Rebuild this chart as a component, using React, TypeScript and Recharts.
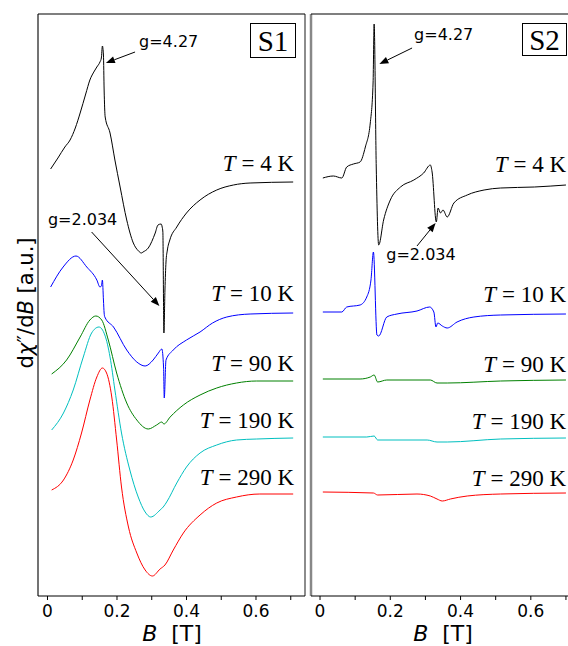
import { LineChart, Line, XAxis, YAxis, ReferenceLine } from 'recharts';

type Pt = [number, number];

// magnetic field B [T] vs offset dχ''/dB (a.u.)
const S1_4K: Pt[] = [
  [0.009, 427], [0.03, 438], [0.05, 449], [0.065, 456], [0.08, 468], [0.094, 483], [0.11, 502],
  [0.122, 516], [0.135, 525], [0.142, 529], [0.151, 534], [0.155, 538], [0.158, 550], [0.161, 541],
  [0.163, 506], [0.166, 479], [0.18, 463], [0.194, 436], [0.209, 409], [0.228, 376], [0.247, 353],
  [0.262, 345], [0.27, 343], [0.275, 344], [0.29, 348], [0.31, 363], [0.318, 371], [0.327, 372],
  [0.33, 369], [0.332, 364], [0.335, 263], [0.338, 306], [0.341, 334], [0.345, 346], [0.352, 356],
  [0.372, 369], [0.4, 383], [0.439, 396], [0.487, 406], [0.535, 411], [0.583, 413], [0.707, 414],
];
const S1_10K: Pt[] = [
  [0.009, 309], [0.045, 329], [0.082, 340], [0.113, 329], [0.142, 316], [0.151, 309], [0.155, 310],
  [0.158, 316], [0.161, 296], [0.163, 283], [0.165, 279], [0.19, 269], [0.228, 246], [0.257, 234],
  [0.281, 230], [0.304, 236], [0.319, 243], [0.329, 247], [0.334, 229], [0.336, 198], [0.341, 236],
  [0.362, 246], [0.4, 256], [0.439, 264], [0.475, 273], [0.516, 279], [0.583, 282], [0.707, 283],
];
const S1_90K: Pt[] = [
  [0.012, 222], [0.055, 236], [0.094, 259], [0.122, 276], [0.139, 280], [0.156, 276], [0.175, 256],
  [0.199, 223], [0.228, 193], [0.257, 176], [0.29, 167], [0.314, 171], [0.329, 174], [0.335, 172],
  [0.353, 179], [0.391, 191], [0.439, 201], [0.487, 208], [0.544, 213], [0.602, 215], [0.707, 215],
];
const S1_190K: Pt[] = [
  [0.012, 166], [0.046, 183], [0.074, 206], [0.103, 239], [0.127, 263], [0.148, 269], [0.165, 261],
  [0.18, 239], [0.194, 206], [0.213, 163], [0.237, 126], [0.261, 99], [0.281, 84], [0.297, 79],
  [0.324, 86], [0.333, 89], [0.343, 94], [0.372, 113], [0.4, 129], [0.439, 143], [0.487, 151],
  [0.544, 156], [0.602, 157], [0.707, 158],
];
const S1_290K: Pt[] = [
  [0.012, 106], [0.046, 116], [0.074, 136], [0.098, 163], [0.122, 196], [0.142, 219], [0.158, 228],
  [0.17, 223], [0.185, 199], [0.199, 156], [0.213, 109], [0.233, 69], [0.257, 43], [0.281, 26],
  [0.302, 20], [0.324, 27], [0.338, 31], [0.362, 46], [0.391, 63], [0.439, 81], [0.487, 93],
  [0.544, 99], [0.611, 102], [0.707, 102],
];

const S2_4K: Pt[] = [
  [0.008, 418], [0.038, 420], [0.062, 418], [0.076, 429], [0.095, 432], [0.114, 434], [0.129, 449],
  [0.143, 473], [0.151, 513], [0.154, 572], [0.16, 429], [0.167, 351], [0.181, 376], [0.2, 396],
  [0.229, 409], [0.267, 416], [0.295, 423], [0.314, 431], [0.319, 424], [0.331, 374], [0.336, 388],
  [0.343, 383], [0.35, 386], [0.362, 379], [0.381, 393], [0.419, 401], [0.467, 406], [0.514, 408],
  [0.61, 409], [0.7, 411],
];
const S2_10K: Pt[] = [
  [0.008, 284], [0.062, 284], [0.076, 289], [0.114, 291], [0.133, 299], [0.145, 316], [0.152, 344],
  [0.162, 261], [0.167, 260], [0.19, 279], [0.219, 282], [0.276, 285], [0.312, 289], [0.324, 284],
  [0.33, 269], [0.335, 273], [0.348, 270], [0.362, 268], [0.39, 274], [0.438, 279], [0.514, 281],
  [0.7, 282],
];
const S2_90K: Pt[] = [
  [0.008, 217], [0.114, 217], [0.143, 219], [0.154, 221], [0.164, 214], [0.19, 216], [0.314, 216],
  [0.333, 213], [0.362, 213], [0.514, 215], [0.7, 216],
];
const S2_190K: Pt[] = [
  [0.008, 159], [0.133, 159], [0.154, 160], [0.164, 156], [0.305, 156], [0.333, 154], [0.362, 154],
  [0.514, 157], [0.7, 158],
];
const S2_290K: Pt[] = [
  [0.008, 104], [0.152, 103], [0.164, 101], [0.276, 102], [0.314, 100], [0.333, 97], [0.348, 95],
  [0.371, 97], [0.419, 100], [0.514, 102], [0.7, 103],
];

const TEMPS = ['4', '10', '90', '190', '290'];
const COLORS = ['#000000', '#0000ff', '#008000', '#00bfbf', '#ff0000'];
const X_TICKS = [0, 0.1, 0.2, 0.3, 0.4, 0.5, 0.6, 0.7];
const Y_MAX = 582;

const toPts = (arr: Pt[]) => arr.map(([x, y]) => ({ x, y }));

const S1 = [S1_4K, S1_10K, S1_90K, S1_190K, S1_290K].map(toPts);
const S2 = [S2_4K, S2_10K, S2_90K, S2_190K, S2_290K].map(toPts);

// label baselines in px, panel is the same height for both
const LABEL_Y = [171, 301, 371, 428, 485];

const tickFmt = (v: number) => {
  const r = Math.round(v * 10);
  if (r === 0) return '0';
  if (r % 2 === 1) return '';
  return v.toFixed(1);
};

const sans = 'DejaVu Sans, sans-serif';
const serif = 'Liberation Serif, DejaVu Serif, serif';

const Arrow = (p: any) => {
  const { x1, y1, x2, y2, note } = p;
  const dx = x2 - x1;
  const dy = y2 - y1;
  const len = Math.sqrt(dx * dx + dy * dy);
  const ux = dx / len;
  const uy = dy / len;
  const hl = 9;
  const hw = 3.5;
  const bx = x2 - ux * hl;
  const by = y2 - uy * hl;
  return (
    <g>
      <line x1={x1} y1={y1} x2={bx} y2={by} stroke="#000" strokeWidth={1} />
      <polygon
        points={`${x2},${y2} ${bx - uy * hw},${by + ux * hw} ${bx + uy * hw},${by - ux * hw}`}
        fill="#000"
      />
      <text x={x1 + note.dx} y={y1 + note.dy} textAnchor={note.anchor} fontSize={16} fontFamily={sans} fill="#000">
        {note.text}
      </text>
    </g>
  );
};

interface Note {
  from: [number, number];
  to: [number, number];
  text: string;
  dx: number;
  dy: number;
  anchor: string;
}

const S1_NOTES: Note[] = [
  { from: [0.252, 544], to: [0.168, 533], text: 'g=4.27', dx: 4, dy: -5, anchor: 'start' },
  { from: [0.127, 364], to: [0.322, 290], text: 'g=2.034', dx: -9, dy: -7, anchor: 'middle' },
];
const S2_NOTES: Note[] = [
  { from: [0.262, 548], to: [0.169, 532], text: 'g=4.27', dx: 2, dy: -8, anchor: 'start' },
  { from: [0.276, 350], to: [0.329, 373], text: 'g=2.034', dx: 4, dy: 14, anchor: 'middle' },
];

interface PanelProps {
  series: { x: number; y: number }[][];
  notes: Note[];
  domain: [number, number];
  width: number;
  marginLeft: number;
  leftBorder: { stroke: string; width: number };
  rightBorder?: { stroke: string; width: number };
}

const Panel = ({ series, notes, domain, width, marginLeft, leftBorder, rightBorder }: PanelProps) => (
  <LineChart width={width} height={646} margin={{ top: 14, right: rightBorder ? 1 : 0, bottom: 0, left: marginLeft }}>
    <XAxis
      dataKey="x"
      type="number"
      domain={domain}
      allowDataOverflow
      ticks={X_TICKS}
      tickFormatter={tickFmt}
      interval={0}
      height={50}
      tickSize={4}
      tickMargin={5}
      tick={{ fontSize: 17, fill: '#000', fontFamily: sans }}
      axisLine={{ stroke: '#000' }}
      tickLine={{ stroke: '#000' }}
    />
    <YAxis hide type="number" domain={[0, Y_MAX]} allowDataOverflow />
    <ReferenceLine x={domain[0]} stroke={leftBorder.stroke} strokeWidth={leftBorder.width} />
    {rightBorder && <ReferenceLine x={domain[1]} stroke={rightBorder.stroke} strokeWidth={rightBorder.width} />}
    <ReferenceLine y={Y_MAX} stroke="#000" strokeWidth={1.2} />
    {series.map((d, i) => (
      <Line
        key={TEMPS[i]}
        data={d}
        dataKey="y"
        type="monotone"
        stroke={COLORS[i]}
        strokeWidth={1}
        dot={false}
        activeDot={false}
        isAnimationActive={false}
      />
    ))}
    {notes.map((n, i) => (
      <ReferenceLine
        key={i}
        segment={[{ x: n.from[0], y: n.from[1] }, { x: n.to[0], y: n.to[1] }]}
        shape={(p: any) => <Arrow {...p} note={n} />}
      />
    ))}
  </LineChart>
);

const TLabel = ({ x, y, t }: { x: number; y: number; t: string }) => (
  <text x={x} y={y} textAnchor="end" fontSize={23} fontFamily={serif} fill="#000">
    <tspan fontStyle="italic">T</tspan>
    <tspan> = {t} K</tspan>
  </text>
);

const Overlay = () => (
  <svg width={568} height={646} style={{ position: 'absolute', left: 0, top: 0, pointerEvents: 'none' }}>
    {TEMPS.map((t, i) => (
      <g key={t}>
        <TLabel x={294} y={LABEL_Y[i]} t={t} />
        <TLabel x={566} y={LABEL_Y[i] + 1} t={t} />
      </g>
    ))}
    <rect x={250.5} y={23.5} width={45} height={34} fill="#fff" stroke="#000" strokeWidth={1} />
    <text x={273} y={51} textAnchor="middle" fontSize={29} fontFamily={serif} fill="#000">S1</text>
    <rect x={522.5} y={23.5} width={44} height={32} fill="#fff" stroke="#000" strokeWidth={1} />
    <text x={544.5} y={50} textAnchor="middle" fontSize={29} fontFamily={serif} fill="#000">S2</text>
    <text
      transform="translate(33,303) rotate(-90)"
      textAnchor="middle"
      fontSize={21}
      fontFamily={sans}
      fill="#000"
    >
      d<tspan fontStyle="italic">χ</tspan>″/d<tspan fontStyle="italic">B</tspan> [a.u.]
    </text>
    <text x={172} y={641} textAnchor="middle" fontSize={22} fontFamily={sans} fill="#000" style={{ whiteSpace: 'pre' }}>
      <tspan fontStyle="italic">B</tspan>{'  [T]'}
    </text>
    <text x={443} y={641} textAnchor="middle" fontSize={22} fontFamily={sans} fill="#000" style={{ whiteSpace: 'pre' }}>
      <tspan fontStyle="italic">B</tspan>{'  [T]'}
    </text>
  </svg>
);

export default function App() {
  return (
    <div style={{ position: 'absolute', left: 0, top: 0, width: 568, height: 646, overflow: 'hidden', background: '#fff' }}>
      <div style={{ position: 'absolute', left: 0, top: 0 }}>
        <Panel
          series={S1}
          notes={S1_NOTES}
          domain={[-0.0273, 0.741]}
          width={306}
          marginLeft={38}
          leftBorder={{ stroke: '#444', width: 1.5 }}
          rightBorder={{ stroke: '#666', width: 1.5 }}
        />
      </div>
      <div style={{ position: 'absolute', left: 305, top: 0 }}>
        <Panel
          series={S2}
          notes={S2_NOTES}
          domain={[-0.0257, 0.74]}
          width={275}
          marginLeft={6}
          leftBorder={{ stroke: '#888', width: 2.5 }}
        />
      </div>
      <Overlay />
    </div>
  );
}
